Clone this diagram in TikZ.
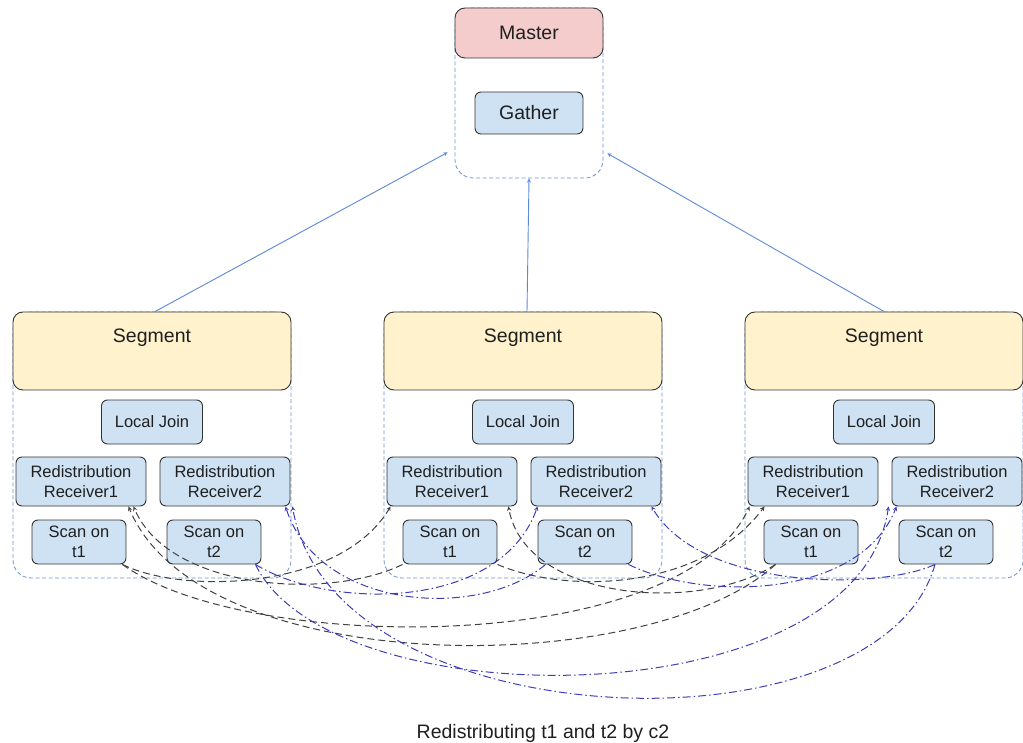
\documentclass[tikz,border=0pt]{standalone}
\usepackage{fontspec}
\setmainfont{Liberation Sans}
\definecolor{opblue}{HTML}{CFE2F3}
\definecolor{segyellow}{HTML}{FFF2CC}
\definecolor{mstpink}{HTML}{F4CCCC}
\definecolor{boxline}{HTML}{333333}
\definecolor{grpline}{HTML}{6C93D4}
\definecolor{uplink}{HTML}{5B88D8}
\definecolor{motion}{HTML}{3D3DB5}
\newcommand{\bigtxt}{\fontsize{19.5}{23}\selectfont}
\newcommand{\optxt}{\fontsize{16.5}{20}\selectfont}

\begin{document}
\begin{tikzpicture}[x=1pt,y=-1pt,
  opbox/.style={draw=boxline,fill=opblue,line width=0.9pt,rounded corners=6pt,inner sep=0pt,
    align=center,font=\optxt,text=black!88},
  recv/.style={opbox,minimum width=130pt,minimum height=49pt},
  scan/.style={opbox,minimum width=94pt,minimum height=44pt},
  joinbox/.style={opbox,minimum width=101pt,minimum height=44pt},
  grpbox/.style={draw=grpline,line width=0.8pt,dash pattern=on 4pt off 2.5pt,rounded corners=18pt,
    minimum width=278pt,minimum height=266pt},
  head/.style={draw=boxline,fill=segyellow,line width=0.9pt,rounded corners=10pt,
    minimum width=278pt,minimum height=78pt},
  ttl/.style={font=\bigtxt,text=black!88},
  toroot/.style={-stealth,uplink,line width=0.9pt},
  move1/.style={-stealth,black!75,line width=1pt,dash pattern=on 7pt off 4pt},
  move2/.style={-stealth,motion,line width=1pt,
    dash pattern=on 8pt off 3pt on 1.5pt off 3pt}]
  \useasboundingbox (0,0) rectangle (1023,743);

  % master
  \node[grpbox,minimum width=148pt,minimum height=170pt] (mst) at (529,93) {};
  \node[head,fill=mstpink,minimum width=148pt,minimum height=50pt,ttl] (mst-head) at (529,33) {Master};
  \node[opbox,font=\bigtxt,minimum width=108pt,minimum height=42pt] (gather) at (529,113) {Gather};

  % segment 1
  \node[grpbox] (s1) at (152,445) {};
  \node[head] (s1-head) at (152,351) {};
  \node[ttl] (s1-title) at (152,338) {Segment};
  \node[joinbox] (s1-join) at (152,422) {Local Join};
  \node[recv] (s1-r1) at (81,481.5) {Redistribution\\Receiver1};
  \node[recv] (s1-r2) at (225,481.5) {Redistribution\\Receiver2};
  \node[scan] (s1-t1) at (79,542) {Scan on\\t1};
  \node[scan] (s1-t2) at (214,542) {Scan on\\t2};

  % segment 2
  \node[grpbox] (s2) at (523,445) {};
  \node[head] (s2-head) at (523,351) {};
  \node[ttl] (s2-title) at (523,338) {Segment};
  \node[joinbox] (s2-join) at (523,422) {Local Join};
  \node[recv] (s2-r1) at (452,481.5) {Redistribution\\Receiver1};
  \node[recv] (s2-r2) at (596,481.5) {Redistribution\\Receiver2};
  \node[scan] (s2-t1) at (450,542) {Scan on\\t1};
  \node[scan] (s2-t2) at (585,542) {Scan on\\t2};

  % segment 3
  \node[grpbox] (s3) at (884,445) {};
  \node[head] (s3-head) at (884,351) {};
  \node[ttl] (s3-title) at (884,338) {Segment};
  \node[joinbox] (s3-join) at (884,422) {Local Join};
  \node[recv] (s3-r1) at (813,481.5) {Redistribution\\Receiver1};
  \node[recv] (s3-r2) at (957,481.5) {Redistribution\\Receiver2};
  \node[scan] (s3-t1) at (811,542) {Scan on\\t1};
  \node[scan] (s3-t2) at (946,542) {Scan on\\t2};

  \node[ttl] (caption) at (543,733) {Redistributing t1 and t2 by c2};

  % segments up to master
  \draw[toroot] ([xshift=3pt]s1-head.north) -- ([xshift=-7pt,yshift=26pt]mst.south west);
  \draw[toroot] ([xshift=4pt]s2-head.north) -- (mst.south);
  \draw[toroot] (s3-head.north) -- ([xshift=4pt,yshift=25pt]mst.south east);

  % t1 moves to Receiver1
  \draw[move1] ([xshift=-4pt]s1-t1.south east) .. controls +(60,30) and +(-50,84) .. ([xshift=4pt]s2-r1.south west);
  \draw[move1] ([xshift=-4pt]s1-t1.south east) .. controls +(124,90) and +(-70,150) .. ([xshift=2pt]s3-r1.south west);
  \draw[move1] (s2-t1.south west) .. controls +(-73,36) and +(36,84) .. ([xshift=-13pt]s1-r1.south east);
  \draw[move1] (s2-t1.south east) .. controls +(70,30) and +(-63,84) .. ([xshift=17pt]s3-r1.south west);
  \draw[move1] ([xshift=12pt]s3-t1.south west) .. controls +(-77,50) and +(17,94) .. ([xshift=-9pt]s2-r1.south east);
  \draw[move1] ([xshift=12pt]s3-t1.south west) .. controls +(-127,116) and +(72,174) .. ([xshift=-18pt]s1-r1.south east);

  % t2 moves to Receiver2
  \draw[move2] ([xshift=-6pt]s1-t2.south east) .. controls +(75,46) and +(-37,104) .. ([xshift=7pt]s2-r2.south west);
  \draw[move2] ([xshift=-6pt]s1-t2.south east) .. controls +(75,156) and +(-32,214) .. ([xshift=-3pt]s3-r2.south west);
  \draw[move2] ([xshift=8pt]s2-t2.south west) .. controls +(-66,56) and +(34,104) .. ([xshift=-5pt]s1-r2.south east);
  \draw[move2] ([xshift=-4pt]s2-t2.south east) .. controls +(73,36) and +(-38,94) .. ([xshift=5pt]s3-r2.south west);
  \draw[move2] ([xshift=-11pt]s3-t2.south) .. controls +(-56,26) and +(50,84) .. ([xshift=-10pt]s2-r2.south east);
  \draw[move2] ([xshift=-11pt]s3-t2.south) .. controls +(-55,196) and +(40,234) .. ([xshift=2pt]s1-r2.south east);
\end{tikzpicture}
\end{document}
